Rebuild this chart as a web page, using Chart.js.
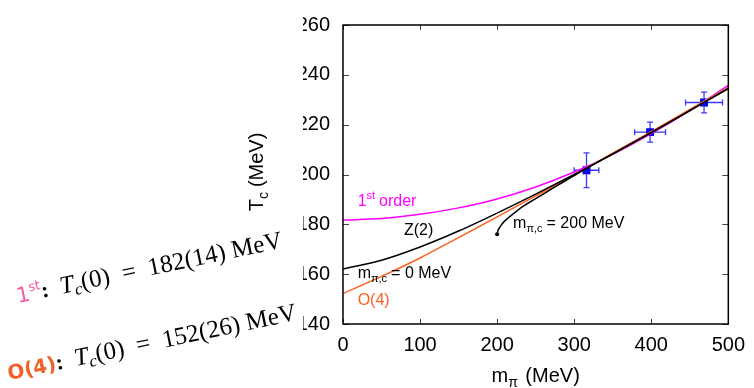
<!DOCTYPE html>
<html>
<head>
<meta charset="utf-8">
<script src="https://cdn.jsdelivr.net/npm/chart.js@4"></script>
<style>
  html, body { margin: 0; padding: 0; background: #fff; }
  #chart { display: block; }
</style>
</head>
<body>
<canvas id="chart" width="754" height="388"></canvas>
<script>
const xTicks = [0, 100, 200, 300, 400, 500];
const yTicks = [140, 160, 180, 200, 220, 240, 260];

// lattice points
const pionMass = [316, 398.5, 468.5];
const pionMassErr = [16, 20, 24];
const tcValues = [201.7, 217, 228.9];
const tcErr = [7, 4, 4.2];

// first order fit
const firstOrderX = [0, 50, 100, 150, 200, 250, 300, 350, 400, 450, 500];
const firstOrderY = [181.7, 182.3, 184.0, 186.6, 190.2, 195.0, 201.0, 208.1, 216.4, 225.6, 235.8];

// Z(2) fit with m_pi,c = 0
const z2ZeroX = [0, 50, 100, 150, 200, 250, 300, 350, 400, 450, 500];
const z2ZeroY = [162.1, 165.6, 170.9, 177.3, 184.5, 192.1, 200.0, 208.2, 216.8, 225.6, 234.6];

// O(4) fit
const o4X = [0, 50, 100, 150, 200, 250, 300, 350, 400, 450, 500];
const o4Y = [152.2, 159.1, 166.5, 174.7, 183.0, 191.4, 199.8, 208.6, 217.2, 226.1, 235.0];

// Z(2) fit with m_pi,c = 200 MeV
const z2CritX = [200, 201, 203, 206, 210, 220, 235, 250, 275, 300, 350, 400, 450, 500];
const z2CritY = [176.0, 177.4, 178.6, 180.0, 181.4, 184.0, 187.5, 190.3, 195.0, 199.6, 208.3, 216.8, 225.6, 234.5];

const FONT = '"Liberation Sans", Arial, sans-serif';
const SERIF = '"Liberation Serif", "Times New Roman", serif';
const MAGENTA = '#ff00ff';
const ORANGE = '#ff5f1f';
const BLUE = '#0000ee';

function pairs(xs, ys) {
  return xs.map((x, i) => ({ x: x, y: ys[i] }));
}

function curve(xs, ys, color) {
  return {
    data: pairs(xs, ys),
    borderColor: color,
    borderWidth: 1.5,
    pointRadius: 0,
    fill: false,
    cubicInterpolationMode: 'monotone'
  };
}

// draws a row of text pieces one after another along a (rotated) baseline
function drawRuns(ctx, x, y, angle, runs, center) {
  ctx.save();
  ctx.translate(x, y);
  ctx.rotate(angle);
  ctx.textAlign = 'left';
  ctx.textBaseline = 'alphabetic';
  let total = 0;
  for (const r of runs) {
    ctx.font = r.font;
    total += ctx.measureText(r.text).width + (r.gap || 0);
  }
  let cx = center ? -total / 2 : 0;
  for (const r of runs) {
    ctx.font = r.font;
    ctx.fillStyle = r.color || '#000';
    ctx.fillText(r.text, cx, r.dy || 0);
    cx += ctx.measureText(r.text).width + (r.gap || 0);
  }
  ctx.restore();
}

const errorBars = {
  id: 'errorBars',
  beforeDatasetsDraw(chart) {
    const ctx = chart.ctx;
    const xs = chart.scales.x, ys = chart.scales.y;
    ctx.save();
    ctx.strokeStyle = '#3a3aff';
    ctx.lineWidth = 1.3;
    ctx.beginPath();
    for (let i = 0; i < pionMass.length; i++) {
      const px = xs.getPixelForValue(pionMass[i]);
      const py = ys.getPixelForValue(tcValues[i]);
      const x0 = xs.getPixelForValue(pionMass[i] - pionMassErr[i]);
      const x1 = xs.getPixelForValue(pionMass[i] + pionMassErr[i]);
      const y0 = ys.getPixelForValue(tcValues[i] - tcErr[i]);
      const y1 = ys.getPixelForValue(tcValues[i] + tcErr[i]);
      ctx.moveTo(x0, py); ctx.lineTo(x1, py);
      ctx.moveTo(x0, py - 3); ctx.lineTo(x0, py + 3);
      ctx.moveTo(x1, py - 3); ctx.lineTo(x1, py + 3);
      ctx.moveTo(px, y0); ctx.lineTo(px, y1);
      ctx.moveTo(px - 3, y0); ctx.lineTo(px + 3, y0);
      ctx.moveTo(px - 3, y1); ctx.lineTo(px + 3, y1);
    }
    ctx.stroke();
    ctx.restore();
  }
};

const frameAndLabels = {
  id: 'frameAndLabels',
  afterDraw(chart) {
    const ctx = chart.ctx;
    const a = chart.chartArea;
    const xs = chart.scales.x, ys = chart.scales.y;
    ctx.save();

    // inward ticks on all four sides
    ctx.strokeStyle = '#444';
    ctx.lineWidth = 1;
    ctx.beginPath();
    xTicks.forEach(v => {
      const px = Math.round(xs.getPixelForValue(v)) + 0.5;
      ctx.moveTo(px, a.bottom); ctx.lineTo(px, a.bottom - 5);
      ctx.moveTo(px, a.top); ctx.lineTo(px, a.top + 5);
    });
    yTicks.forEach(v => {
      const py = Math.round(ys.getPixelForValue(v)) + 0.5;
      ctx.moveTo(a.left, py); ctx.lineTo(a.left + 6, py);
      ctx.moveTo(a.right, py); ctx.lineTo(a.right - 6, py);
    });
    ctx.stroke();

    // frame
    ctx.strokeStyle = '#000';
    ctx.lineWidth = 1.5;
    ctx.strokeRect(a.left, a.top, a.right - a.left, a.bottom - a.top);

    // axis titles
    drawRuns(ctx, (a.left + a.right) / 2, 382, 0, [
      { text: 'm', font: '20px ' + FONT },
      { text: 'π', font: '14px ' + FONT, dy: 5, gap: 2 },
      { text: ' (MeV)', font: '20px ' + FONT }
    ], true);
    drawRuns(ctx, 263, 172, -Math.PI / 2, [
      { text: 'T', font: '20px ' + FONT },
      { text: 'c', font: '14px ' + FONT, dy: 5, gap: 5 },
      { text: '(MeV)', font: '20px ' + FONT }
    ], true);

    // curve labels
    const at = (m, t) => [xs.getPixelForValue(m), ys.getPixelForValue(t)];
    let p = at(19, 187.4);
    drawRuns(ctx, p[0], p[1], 0, [
      { text: '1', font: '16px ' + FONT, color: MAGENTA },
      { text: 'st', font: '11px ' + FONT, color: MAGENTA, dy: -7, gap: 4 },
      { text: 'order', font: '16px ' + FONT, color: MAGENTA }
    ]);
    p = at(79, 175.7);
    drawRuns(ctx, p[0], p[1], 0, [{ text: 'Z(2)', font: '16px ' + FONT }]);
    p = at(19, 158.3);
    drawRuns(ctx, p[0], p[1], 0, [
      { text: 'm', font: '16px ' + FONT },
      { text: 'π,c', font: '11px ' + FONT, dy: 4, gap: 4 },
      { text: '= 0 MeV', font: '16px ' + FONT }
    ]);
    p = at(19, 147.8);
    drawRuns(ctx, p[0], p[1], 0, [{ text: 'O(4)', font: '16px ' + FONT, color: ORANGE }]);
    p = at(220.7, 178.4);
    drawRuns(ctx, p[0], p[1], 0, [
      { text: 'm', font: '16px ' + FONT },
      { text: 'π,c', font: '11px ' + FONT, dy: 4, gap: 4 },
      { text: '= 200 MeV', font: '16px ' + FONT }
    ]);

    // extrapolated values at zero pion mass
    const tilt = -11.8 * Math.PI / 180;
    drawRuns(ctx, 18, 303, tilt, [
      { text: '1', font: '21px "DejaVu Sans", sans-serif', color: '#f05aa0' },
      { text: 'st', font: '13px "DejaVu Sans", sans-serif', color: '#f05aa0', dy: -9 },
      { text: ':', font: 'bold 22px ' + SERIF, gap: 12 },
      { text: 'T', font: 'italic 25px ' + SERIF },
      { text: 'c', font: 'italic 17px ' + SERIF, dy: 4 },
      { text: '(0)  =  182(14) MeV', font: '25px ' + SERIF }
    ]);
    drawRuns(ctx, 9, 380, tilt, [
      { text: 'O(4)', font: 'bold 20px "DejaVu Sans", sans-serif', color: '#f0602a' },
      { text: ':', font: 'bold 22px ' + SERIF, gap: 12 },
      { text: 'T', font: 'italic 25px ' + SERIF },
      { text: 'c', font: 'italic 17px ' + SERIF, dy: 4 },
      { text: '(0)  =  152(26) MeV', font: '25px ' + SERIF }
    ]);
    ctx.restore();
  }
};

const z2Crit = curve(z2CritX, z2CritY, '#000');
z2Crit.pointRadius = z2CritX.map((v, i) => i === 0 ? 2 : 0);
z2Crit.pointBackgroundColor = '#000';
z2Crit.pointBorderWidth = 0;

new Chart(document.getElementById('chart'), {
  type: 'line',
  data: {
    datasets: [
      z2Crit,
      curve(z2ZeroX, z2ZeroY, '#000'),
      curve(o4X, o4Y, ORANGE),
      curve(firstOrderX, firstOrderY, MAGENTA),
      {
        type: 'scatter',
        data: pairs(pionMass, tcValues),
        pointStyle: 'rect',
        pointRadius: 5.6,
        pointBackgroundColor: BLUE,
        pointBorderWidth: 0,
        showLine: false
      }
    ]
  },
  options: {
    responsive: false,
    animation: false,
    devicePixelRatio: 1,
    layout: { padding: { left: 303, right: 22, top: 15, bottom: 0 } },
    plugins: { legend: { display: false }, tooltip: { enabled: false } },
    scales: {
      x: {
        type: 'linear',
        min: 0,
        max: 500,
        afterBuildTicks: s => { s.ticks = xTicks.map(v => ({ value: v })); },
        afterFit: s => { s.height = 64; },
        grid: { display: false, drawTicks: false },
        border: { display: false },
        ticks: { padding: 9, color: '#000', font: { family: FONT, size: 20 } }
      },
      y: {
        type: 'linear',
        min: 140,
        max: 260,
        afterBuildTicks: s => { s.ticks = yTicks.map(v => ({ value: v })); },
        afterFit: s => { s.width = 40; },
        grid: { display: false, drawTicks: false },
        border: { display: false },
        ticks: { padding: 13, color: '#000', font: { family: FONT, size: 20 } }
      }
    }
  },
  plugins: [errorBars, frameAndLabels]
});
</script>
</body>
</html>
